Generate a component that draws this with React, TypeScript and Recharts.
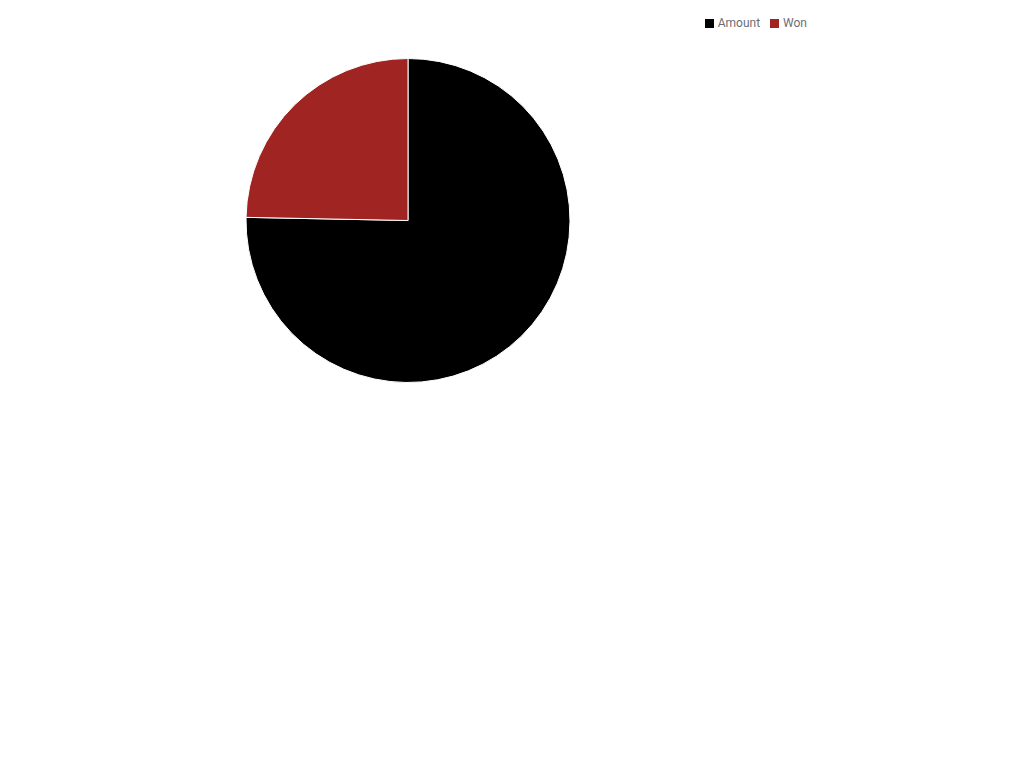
import { PieChart, Pie, Cell, Legend } from "recharts";

const LABELS = ["Amount", "Won"];
const VALUES = [3050, 1000];
const COLORS = ["#000000", "#a02422"];

const data = LABELS.map((name, i) => ({ name, value: VALUES[i] }));

export default function App() {
  return (
    <div style={{ width: 816, height: 440, fontFamily: "Roboto, sans-serif" }}>
      <PieChart width={816} height={440} margin={{ top: 0, right: 0, bottom: 0, left: 0 }}>
        <Legend
          verticalAlign="bottom"
          align="right"
          iconType="square"
          iconSize={9}
          wrapperStyle={{ top: 6, bottom: "auto", right: 7, fontSize: 12, lineHeight: "18px" }}
          formatter={(value: string) => <span style={{ color: "#6b6e75" }}>{value}</span>}
        />
        <Pie
          data={data}
          dataKey="value"
          nameKey="name"
          cx={400}
          cy={212.5}
          outerRadius={162}
          startAngle={90}
          endAngle={-270}
          stroke="#ffffff"
          strokeWidth={1}
          isAnimationActive={false}
        >
          {data.map((d, i) => (
            <Cell key={d.name} fill={COLORS[i]} />
          ))}
        </Pie>
      </PieChart>
    </div>
  );
}
